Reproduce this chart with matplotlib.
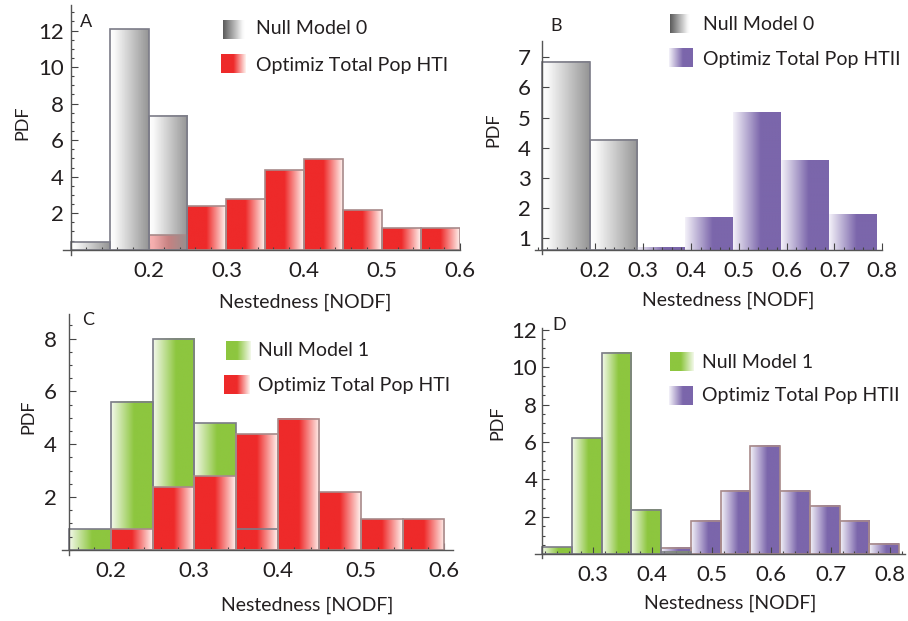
import numpy as np
import matplotlib
matplotlib.use("Agg")
import matplotlib.pyplot as plt
from matplotlib.colors import LinearSegmentedColormap
from matplotlib.ticker import MultipleLocator

plt.rcParams['font.family'] = ['Lato', 'DejaVu Sans']
plt.rcParams['text.color'] = '#231f20'

# panel A: null model 0 vs optimized HTI
a_null_edges = [0.10, 0.15, 0.20, 0.25]
a_null = [0.40, 12.1, 7.34]
hti_edges = [0.20, 0.25, 0.30, 0.35, 0.40, 0.45, 0.50, 0.55, 0.60]
hti = [0.78, 2.37, 2.78, 4.38, 4.97, 2.17, 1.17, 1.17]

# panel B: null model 0 vs optimized HTII
b_null_edges = [0.088, 0.188, 0.288]
b_null = [6.85, 4.26]
b_htii_edges = [0.288, 0.388, 0.488, 0.588, 0.688, 0.788]
b_htii = [0.70, 1.69, 5.18, 3.59, 1.79]

# panel C: null model 1 vs optimized HTI
c_null_edges = [0.15, 0.20, 0.25, 0.30, 0.35, 0.40]
c_null = [0.77, 5.61, 8.0, 4.79, 0.77]

# panel D: null model 1 vs optimized HTII
d_null_edges = [0.215, 0.265, 0.315, 0.365, 0.415, 0.465]
d_null = [0.37, 6.19, 10.77, 2.37, 0.14]
d_htii_edges = [0.415, 0.465, 0.515, 0.565, 0.615, 0.665, 0.715, 0.765, 0.815]
d_htii = [0.36, 1.80, 3.40, 5.78, 3.38, 2.58, 1.80, 0.57]

W, H = 908, 621
fig = plt.figure(figsize=(W / 100, H / 100), dpi=100)

red = '#ee2a2a'
purple = '#7b66ab'
green = '#8dc63f'
gray_cm = LinearSegmentedColormap.from_list('g', [(0, '#ffffff'), (0.12, '#f6f6f6'), (1, '#5a5a5a')])
red_cm = LinearSegmentedColormap.from_list('r', [(0, red), (0.5, red), (1, '#fff4f0')])
purple_cm = LinearSegmentedColormap.from_list('p', [(0, '#f4f2f9'), (0.58, purple), (1, purple)])
green_cm = LinearSegmentedColormap.from_list('gr', [(0, '#f4f9ec'), (0.55, green), (1, green)])
ramp = np.linspace(0, 1, 256).reshape(1, -1)
edge_gray = '#7c7c88'
edge_red = '#a88a8a'


def box(l, t, r, b):
    return [l / W, 1 - b / H, (r - l) / W, (b - t) / H]


def fills(ax, edges, heights, cmap, base=0.0, alpha=1.0, z=1):
    for x0, x1, h in zip(edges[:-1], edges[1:], heights):
        ax.imshow(ramp, cmap=cmap, extent=(x0, x1, base, h), aspect='auto',
                  alpha=alpha, zorder=z, interpolation='bilinear')


def outline(ax, edges, heights, ec, base=0.0):
    edges = np.array(edges)
    ax.bar(edges[:-1], np.array(heights) - base, width=np.diff(edges), bottom=base,
           align='edge', fill=False, edgecolor=ec, lw=1.2, zorder=2)


def setup(ax, xlim, ylim, xo, yo, xmaj, ymaj, ymin, ypad):
    ax.set_xlim(*xlim)
    ax.set_ylim(*ylim)
    for s in ['top', 'right']:
        ax.spines[s].set_visible(False)
    ax.spines['left'].set_position(('data', xo))
    ax.spines['bottom'].set_position(('data', yo))
    for s in ['left', 'bottom']:
        ax.spines[s].set_color('#555555')
        ax.spines[s].set_linewidth(1.0)
    ax.set_xticks(xmaj)
    ax.set_xticklabels([f'{v:.1f}' for v in xmaj])
    ax.set_yticks(ymaj)
    ax.set_yticklabels([f'{v:g}' for v in ymaj])
    ax.xaxis.set_minor_locator(MultipleLocator(0.02))
    if ymin:
        ax.yaxis.set_minor_locator(MultipleLocator(ymin))
    ax.tick_params(which='both', direction='in', color='#444444', width=0.8,
                   labelsize=16, labelcolor='#231f20')
    ax.tick_params(which='major', length=5)
    ax.tick_params(which='minor', length=2.5)
    ax.tick_params(axis='x', pad=8)
    ax.tick_params(axis='y', pad=ypad)
    ax.patch.set_alpha(0)


def label(x, y, s, size=14, rot=0, ha='left'):
    fig.text(x / W, 1 - y / H, s, fontsize=size, rotation=rot, ha=ha, va='center')


def swatch(l, t, r, b, cmap):
    sax = fig.add_axes(box(l, t, r, b))
    sax.imshow(ramp, cmap=cmap, aspect='auto', extent=(0, 1, 0, 1))
    sax.axis('off')


# ---- A
axA = fig.add_axes(box(62.9, 5, 460, 255.2))
fills(axA, hti_edges, hti, red_cm)
fills(axA, a_null_edges, a_null, gray_cm, alpha=0.65, z=1.2)
outline(axA, hti_edges, hti, edge_red)
outline(axA, a_null_edges, a_null, edge_gray)
setup(axA, (0.09, 0.6), (-0.3, 13.4), 0.1, 0, [0.2, 0.3, 0.4, 0.5, 0.6],
      [2, 4, 6, 8, 10, 12], 0.5, 5)

# ---- B
b_base = 0.612
axB = fig.add_axes(box(535, 40.7, 882.3, 254))
fills(axB, b_null_edges, b_null, gray_cm, base=b_base, alpha=0.65)
fills(axB, b_htii_edges, b_htii, purple_cm, base=b_base)
outline(axB, b_null_edges, b_null, edge_gray, base=b_base)
setup(axB, (0.074, 0.80), (0.48, 7.55), 0.088, b_base,
      [0.2, 0.3, 0.4, 0.5, 0.6, 0.7, 0.8], [1, 2, 3, 4, 5, 6, 7], None, 8)

# ---- C
axC = fig.add_axes(box(61.7, 314, 452.7, 555))
fills(axC, c_null_edges, c_null, green_cm)
fills(axC, hti_edges, hti, red_cm, z=1.2)
outline(axC, c_null_edges, c_null, edge_gray)
outline(axC, hti_edges, hti, edge_red)
setup(axC, (0.1409, 0.61), (-0.2, 8.93), 0.15, 0, [0.2, 0.3, 0.4, 0.5, 0.6],
      [2, 4, 6, 8], 0.5, 9)

# ---- D
axD = fig.add_axes(box(535, 328.3, 905, 558.3))
fills(axD, d_htii_edges, d_htii, purple_cm)
fills(axD, d_null_edges, d_null, green_cm, z=1.2)
outline(axD, d_htii_edges, d_htii, edge_red)
outline(axD, d_null_edges, d_null, edge_gray)
setup(axD, (0.2031, 0.825), (-0.21, 12.07), 0.215, 0,
      [0.3, 0.4, 0.5, 0.6, 0.7, 0.8], [2, 4, 6, 8, 10, 12], 0.5, 3.5)

# axis labels and panel letters
for x, y in [(305, 302), (728, 300), (307, 605), (730, 603)]:
    label(x, y, 'Nestedness [NODF]', ha='center')
for x, y in [(22, 123), (493, 130), (28, 417), (497, 423)]:
    label(x, y, 'PDF', size=13, rot=90, ha='center')
for x, y, s in [(80, 22, 'A'), (550, 26, 'B'), (82, 320, 'C'), (552, 325, 'D')]:
    label(x, y, s, size=13)

# legends
swatch(223, 20, 245, 39, gray_cm.reversed())
label(256, 29, 'Null Model 0')
swatch(221, 54, 246, 73, red_cm)
label(256, 65, 'Optimiz Total Pop HTI')

swatch(670, 14, 690, 33, gray_cm.reversed())
label(703, 24, 'Null Model 0')
swatch(669, 48, 693, 67, purple_cm)
label(703, 60, 'Optimiz Total Pop HTII')

swatch(226, 341, 251, 360, green_cm.reversed())
label(258, 351, 'Null Model 1')
swatch(224, 375, 249, 394, red_cm)
label(258, 385, 'Optimiz Total Pop HTI')

swatch(670, 352, 694, 371, green_cm.reversed())
label(702, 362, 'Null Model 1')
swatch(669, 386, 693, 405, purple_cm)
label(702, 396, 'Optimiz Total Pop HTII')

fig.savefig('out.png', dpi=100)
